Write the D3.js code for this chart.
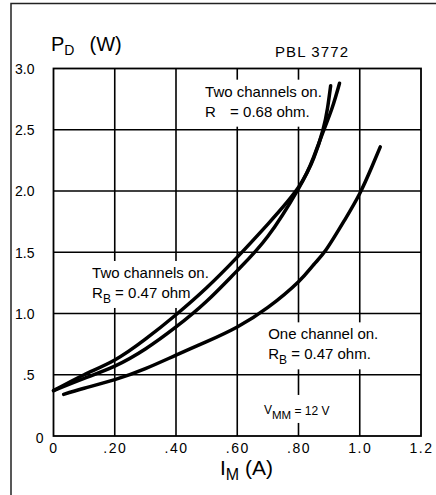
<!DOCTYPE html>
<html>
<head>
<meta charset="utf-8">
<script src="https://cdn.jsdelivr.net/npm/d3@7"></script>
<style>
  body { margin: 0; background: #fff; }
  svg { display: block; }
</style>
</head>
<body>
<div id="chart"></div>
<script>
// Axis ticks
const xTicks = [0, 0.2, 0.4, 0.6, 0.8, 1.0, 1.2];
const xTickLabels = ["0", ".20", ".40", ".60", ".80", "1.0", "1.2"];
const yTicks = [0, 0.5, 1.0, 1.5, 2.0, 2.5, 3.0];
const yTickLabels = ["0", ".5", "1.0", "1.5", "2.0", "2.5", "3.0"];

// Two channels on, R_B = 0.47 ohm
const twoCh047I = [0, 0.1, 0.2, 0.3, 0.4, 0.5, 0.6, 0.7, 0.8, 0.85, 0.88, 0.91, 0.934];
const twoCh047P = [0.37, 0.50, 0.62, 0.79, 0.99, 1.21, 1.46, 1.73, 2.03, 2.28, 2.48, 2.68, 2.88];
// Two channels on, R = 0.68 ohm
const twoCh068I = [0, 0.1, 0.2, 0.3, 0.4, 0.5, 0.6, 0.7, 0.8, 0.85, 0.88, 0.895, 0.905];
const twoCh068P = [0.37, 0.47, 0.57, 0.71, 0.89, 1.10, 1.35, 1.63, 2.02, 2.27, 2.50, 2.68, 2.86];
// One channel on, R_B = 0.47 ohm
const oneCh047I = [0.033, 0.1, 0.2, 0.3, 0.4, 0.5, 0.6, 0.7, 0.8, 0.85, 0.89, 0.95, 1.0, 1.04, 1.067];
const oneCh047P = [0.34, 0.39, 0.46, 0.55, 0.66, 0.77, 0.89, 1.05, 1.26, 1.40, 1.52, 1.76, 1.98, 2.20, 2.36];

// Annotation text (anchor in data units, lines of [text, subscript?])
const notes = [
  { i: 0.495, p: 2.77, lines: [[["Two channels on."]], [["R"], ["\u00a0\u00a0\u00a0", 1], [" = 0.68 ohm."]]] },
  { i: 0.126, p: 1.29, lines: [[["Two channels on."]], [["R"], ["B", 1], [" = 0.47 ohm"]]] },
  { i: 0.701, p: 0.789, lines: [[["One channel on."]], [["R"], ["B", 1], [" = 0.47 ohm."]]] }
];

const width = 436;
const height = 495;
const font = "'Liberation Sans', Arial, Helvetica, sans-serif";

const svg = d3.select("#chart").append("svg")
  .attr("width", width)
  .attr("height", height)
  .style("font-family", font);

const x = d3.scaleLinear().domain([0, 1.2]).range([53.5, 421]);
const y = d3.scaleLinear().domain([0, 3]).range([436, 68.5]);

// outer frame (top and left edges only)
svg.append("path")
  .attr("d", `M11,${height} V3.5 H${width}`)
  .attr("fill", "none")
  .attr("stroke", "#222")
  .attr("stroke-width", 1.5);

// grid
const grid = svg.append("g").attr("stroke", "#000").attr("stroke-width", 1.6);
grid.selectAll("line.v")
  .data(xTicks.slice(1, -1))
  .join("line")
  .attr("x1", d => x(d)).attr("x2", d => x(d))
  .attr("y1", y(0)).attr("y2", y(3));
grid.selectAll("line.h")
  .data(yTicks.slice(1, -1))
  .join("line")
  .attr("y1", d => y(d)).attr("y2", d => y(d))
  .attr("x1", x(0)).attr("x2", x(1.2));

// annotations with white backing
function addLabel(g, lines, size, subSize, lineH) {
  const t = g.append("text").attr("font-size", size).attr("fill", "#000");
  lines.forEach((line, li) => {
    let shifted = false;
    line.forEach(([txt, sub], si) => {
      const ts = t.append("tspan").text(txt);
      if (si === 0) ts.attr("x", 0).attr("y", li * lineH);
      if (sub) { ts.attr("font-size", subSize).attr("dy", 5); shifted = true; }
      else if (shifted) { ts.attr("dy", -5); shifted = false; }
    });
  });
  return t;
}

const noteG = svg.append("g");
notes.forEach(n => {
  const g = noteG.append("g").attr("transform", `translate(${x(n.i)},${y(n.p)})`);
  const t = addLabel(g, n.lines, 15, 12, 20);
  const b = t.node().getBBox();
  g.insert("rect", "text")
    .attr("x", b.x - 2).attr("y", b.y - 3)
    .attr("width", b.width + 4).attr("height", b.height + 5)
    .attr("fill", "#fff");
});

// V_MM note
const vmm = noteG.append("g").attr("transform", `translate(${x(0.687)},${y(0.18)})`);
const vt = vmm.append("text").attr("font-size", 12);
vt.append("tspan").attr("x", 0).text("V");
vt.append("tspan").attr("dy", 5).attr("font-size", 11.5).text("MM");
vt.append("tspan").attr("dy", -4).text(" = 12 V");
const vb = vt.node().getBBox();
vmm.insert("rect", "text")
  .attr("x", vb.x - 2).attr("y", vb.y - 8)
  .attr("width", vb.width + 4).attr("height", vb.height + 10)
  .attr("fill", "#fff");

// plot border
svg.append("rect")
  .attr("x", x(0)).attr("y", y(3))
  .attr("width", x(1.2) - x(0)).attr("height", y(0) - y(3))
  .attr("fill", "none").attr("stroke", "#000").attr("stroke-width", 1.8);

// curves
const line = d3.line()
  .x(d => x(d[0]))
  .y(d => y(d[1]))
  .curve(d3.curveNatural);

const series = [
  d3.zip(twoCh047I, twoCh047P),
  d3.zip(twoCh068I, twoCh068P),
  d3.zip(oneCh047I, oneCh047P)
];

svg.append("g")
  .attr("fill", "none")
  .attr("stroke", "#000")
  .attr("stroke-width", 3.5)
  .attr("stroke-linecap", "round")
  .selectAll("path")
  .data(series)
  .join("path")
  .attr("d", line);

// axes labels
const xAxis = svg.append("g")
  .attr("transform", `translate(0,${y(0)})`)
  .call(d3.axisBottom(x).tickValues(xTicks).tickFormat((d, i) => xTickLabels[i]).tickSize(0).tickPadding(7));
xAxis.select(".domain").remove();
xAxis.selectAll("text")
  .attr("font-size", 14)
  .attr("font-family", font)
  .attr("letter-spacing", 1.5)
  .attr("fill", "#000");

const yAxis = svg.append("g")
  .attr("transform", `translate(${x(0)},0)`)
  .call(d3.axisLeft(y).tickValues(yTicks).tickFormat((d, i) => yTickLabels[i]).tickSize(0).tickPadding(19));
yAxis.select(".domain").remove();
yAxis.selectAll("text")
  .attr("font-size", 14)
  .attr("font-family", font)
  .attr("fill", "#000")
  .attr("x", d => d === 0 ? -10 : -19)
  .attr("dy", d => d === 0 ? "0.45em" : "0.35em");

// titles
const pd = svg.append("text").attr("x", 51).attr("y", 50.5).attr("font-size", 20);
pd.append("tspan").text("P");
pd.append("tspan").attr("font-size", 14).attr("dy", 4.5).text("D");
pd.append("tspan").attr("dy", -4.5).attr("dx", 15).text("(W)");

svg.append("text")
  .attr("x", 275).attr("y", 57)
  .attr("font-size", 15)
  .attr("letter-spacing", 1.1)
  .text("PBL 3772");

const im = svg.append("text").attr("x", 220).attr("y", 475).attr("font-size", 21);
im.append("tspan").text("I");
im.append("tspan").attr("font-size", 16).attr("dy", 5).text("M");
im.append("tspan").attr("dy", -5).text(" (A)");
</script>
</body>
</html>
